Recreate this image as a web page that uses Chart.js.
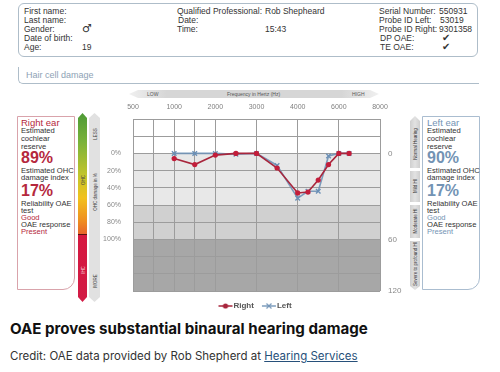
<!DOCTYPE html>
<html><head><meta charset="utf-8">
<script src="https://cdn.jsdelivr.net/npm/chart.js@4/dist/chart.umd.min.js"></script>
<style>
html,body{margin:0;padding:0;background:#fff;}
body{width:500px;height:372px;position:relative;overflow:hidden;font-family:"Liberation Sans",Arial,sans-serif;color:#333;}
.a{position:absolute;white-space:nowrap;}
.rot{position:absolute;white-space:nowrap;transform:translate(-50%,-50%) rotate(-90deg);font-size:4.5px;color:#444;}
#hdr{position:absolute;left:18px;top:3px;width:458px;height:52px;border:1.5px solid #aebdc9;border-radius:6px;}
#hcd{position:absolute;left:18px;top:67px;width:460px;height:16px;border-left:1.5px solid #aebdc9;border-bottom:1.5px solid #aebdc9;border-bottom-left-radius:5px;}
#band{position:absolute;left:129px;top:90px;width:250px;height:8px;clip-path:polygon(0 50%,9px 0,calc(100% - 9px) 0,100% 50%,calc(100% - 9px) 100%,9px 100%);background:linear-gradient(to right,#f0f0f0,#d6d6d6 15%,#d6d6d6 85%,#f0f0f0);}
.pnl{position:absolute;top:116px;width:56px;height:172px;border-bottom-right-radius:12px;}
.bar{position:absolute;clip-path:polygon(50% 0,100% 5px,100% calc(100% - 5px),50% 100%,0 calc(100% - 5px),0 5px);}
.seg{position:absolute;left:410px;width:10px;background:linear-gradient(to right,#cfcfcf,#e2e2e2 50%,#cfcfcf);}
canvas{position:absolute;left:0;top:0;}
</style></head>
<body>
<div id="hdr"></div>
<div id="hcd"></div>
<div class="a" style="left:26px;top:70px;font-size:9px;color:#8ea2b5;">Hair cell damage</div>
<div id="band"></div>
<div class="a" style="left:147px;top:91px;font-size:5px;color:#555;">LOW</div>
<div class="a" style="left:227px;top:91px;font-size:5px;color:#555;">Frequency in Hertz (Hz)</div>
<div class="a" style="left:352px;top:91px;font-size:5px;color:#555;">HIGH</div>

<div class="pnl" style="left:17px;border:1px solid #d9a3ab;"></div>
<div class="bar" style="left:78px;top:113px;width:9px;height:189px;background:linear-gradient(to bottom,#4d9a36 0%,#79b23a 15%,#c3c52c 33%,#f2c11d 45%,#ef8e20 57%,#e8652b 64%,#5a1010 64%,#5a1010 64.6%,#d6173f 64.6%,#d21b45 100%);"></div>
<div class="bar" style="left:89px;top:113px;width:11px;height:189px;background:#e1e1e1;"></div>
<div class="rot" style="left:82.5px;top:180px;">OHC</div>
<div class="rot" style="left:82.5px;top:270px;color:#f5d0d8;">IHC</div>
<div class="rot" style="left:94.5px;top:134px;">LESS</div>
<div class="rot" style="left:94.5px;top:192px;">OHC damage in %</div>
<div class="rot" style="left:94.5px;top:281px;">MORE</div>

<div class="seg" style="top:116px;height:52px;clip-path:polygon(50% 0,100% 5px,100% 100%,0 100%,0 5px);"></div>
<div class="seg" style="top:171px;height:31px;"></div>
<div class="seg" style="top:205px;height:33px;"></div>
<div class="seg" style="top:241px;height:49px;clip-path:polygon(0 0,100% 0,100% calc(100% - 4px),50% 100%,0 calc(100% - 4px));"></div>
<div class="rot" style="left:415px;top:144px;color:#333;">Normal Hearing</div>
<div class="rot" style="left:415px;top:186px;color:#333;">Mild HI</div>
<div class="rot" style="left:415px;top:221px;color:#333;">Moderate HI</div>
<div class="rot" style="left:415px;top:264px;color:#333;">Severe to profound HI</div>
<div class="pnl" style="left:422px;border:1px solid #aabdd0;"></div>

<div id="txt"></div>

<div class="a" style="left:10px;top:319px;font-family:Inter,'Liberation Sans',sans-serif;font-weight:700;font-size:15.1px;color:#111;">OAE proves substantial binaural hearing damage</div>
<div class="a" style="left:10px;top:349px;font-family:Inter,'Liberation Sans',sans-serif;font-size:11.5px;color:#333;">Credit: OAE data provided by Rob Shepherd at <span style="color:#27507a;text-decoration:underline;">Hearing Services</span></div>

<canvas id="c" width="500" height="325"></canvas>
<script>
// ---- data ----
const tickFreqs = [500, 1000, 2000, 3000, 4000, 6000, 8000];
const tickLabels = ['500', '1000', '2000', '3000', '4000', '6000', '8000'];
const gridFreqs = [500, 750, 1000, 1500, 2000, 3000, 4000, 6000, 8000];
const frequencies = [1000, 1500, 2000, 2500, 3000, 3500, 4000, 4500, 5000, 5500, 6000, 6500];
const rightEar = [6, 13, 2, 0, 0, 17, 46, 45, 31, 13, 0, 0];
const leftEar  = [0, 0, 0, 1, 0, 14, 52, 44, 44, 3, 0, 0];
const leftAxisTicks = [0, 20, 40, 60, 80, 100];
const rightAxisTicks = [0, 100, 160];
const rightAxisLabels = ['0', '60', '120'];
const bands = [[-40, 0, '#ffffff'], [0, 60, '#e8e8e8'], [60, 100, '#d0d0d0'], [100, 160, '#a7a7a7']];

// header / panel texts
const header = [
  ['First name:',24,11],['Last name:',24,20],['Gender:',24,29],['Date of birth:',24,38],['Age:',24,47],
  ['\u2642',82,29,11,700,'DejaVu Sans'],['19',82,47],
  ['Qualified Professional:',177,11],['Rob Shepheard',265,11],['Date:',178,20],['Time:',177,29],['15:43',265,29],
  ['Serial Number:',379,11],['550931',439,11],['Probe ID Left:',379,20],['53019',440,20],['Probe ID Right:',379,29],['9301358',439,29],
  ['DP OAE:',380,38],['\u2714',442,38,9.5],['TE OAE:',380,47],['\u2714',442,47,9.5]
];
function panel(x, title, reserve, dmg, rel, resp, col) {
  return [
    [title, x, 123, col, 9.5, 400],
    ['Estimated', x, 131], ['cochlear', x, 139], ['reserve', x, 147],
    [reserve, x, 158, col, 16, 700],
    ['Estimated OHC', x, 171], ['damage index', x, 178],
    [dmg, x, 191, col, 16, 700],
    ['Reliability OAE', x, 204], ['test', x, 211],
    [rel, x, 218, col], ['OAE response', x, 225], [resp, x, 232, col]
  ];
}
const panelLines = panel(21, 'Right ear', '89%', '17%', 'Good', 'Present', '#b5283d')
  .concat(panel(427, 'Left ear', '90%', '17%', 'Good', 'Present', '#7393b4'));

const txt = document.getElementById('txt');
header.forEach(([t, x, y, s, w, ff]) => {
  const fs = s || 8.5;
  const d = document.createElement('div'); d.className = 'a';
  d.style.cssText = `left:${x}px;top:${y - 5}px;font-size:${fs}px;line-height:10px;color:#333;font-weight:${w || 400};` + (ff ? `font-family:'${ff}';` : '');
  d.textContent = t; txt.appendChild(d);
});
panelLines.forEach(([t, x, y, c, s, w]) => {
  const fs = s || 7.6;
  const d = document.createElement('div'); d.className = 'a';
  d.style.cssText = `left:${x}px;top:${y - fs * 0.6}px;font-size:${fs}px;line-height:${fs * 1.2}px;color:${c || '#333'};font-weight:${w || 400};`;
  d.textContent = t; txt.appendChild(d);
});

// ---- scale transform: frequency -> audiogram column position ----
function freqPos(f) {
  for (let i = 0; i < tickFreqs.length - 1; i++) {
    if (f <= tickFreqs[i + 1]) return i + (f - tickFreqs[i]) / (tickFreqs[i + 1] - tickFreqs[i]);
  }
  return tickFreqs.length - 1;
}

function legendIcon(color, style) {
  const c = document.createElement('canvas'); c.width = 16; c.height = 8;
  const g = c.getContext('2d');
  g.strokeStyle = color; g.lineWidth = 1.5;
  g.beginPath(); g.moveTo(1, 4); g.lineTo(15, 4); g.stroke();
  g.fillStyle = color;
  if (style === 'circle') { g.beginPath(); g.arc(8, 4, 2.6, 0, Math.PI * 2); g.fill(); }
  else { g.lineWidth = 1.3; g.beginPath(); g.moveTo(5.5, 1.5); g.lineTo(10.5, 6.5); g.moveTo(10.5, 1.5); g.lineTo(5.5, 6.5); g.stroke(); }
  return c;
}

const bandPlugin = {
  id: 'bands',
  beforeDraw(chart) {
    const { ctx, chartArea: a, scales: { y } } = chart;
    ctx.save();
    bands.forEach(([from, to, col]) => {
      const y1 = y.getPixelForValue(from), y2 = y.getPixelForValue(to);
      ctx.fillStyle = col;
      ctx.fillRect(a.left, Math.min(y1, y2), a.right - a.left, Math.abs(y2 - y1));
    });
    ctx.restore();
  }
};

const gridColor = '#9c9c9c';
new Chart(document.getElementById('c'), {
  type: 'line',
  data: {
    datasets: [
      {
        label: 'Right',
        data: frequencies.map((f, i) => ({ x: freqPos(f), y: rightEar[i] })),
        borderColor: '#a8263c', backgroundColor: '#c21d3a',
        borderWidth: 1.6, pointStyle: 'circle', pointRadius: 2.6,
        pointBorderWidth: 0, pointBackgroundColor: '#c21d3a'
      },
      {
        label: 'Left',
        data: frequencies.map((f, i) => ({ x: freqPos(f), y: leftEar[i] })),
        borderColor: 'rgba(112,146,182,0.9)', backgroundColor: '#6f93b8',
        borderWidth: 1.6, pointStyle: 'crossRot', pointRadius: 3.2,
        pointBorderWidth: 1.4, pointBorderColor: '#6a8fb6'
      }
    ]
  },
  options: {
    responsive: false, animation: false,
    layout: { padding: { left: 93, right: 80, top: 99, bottom: 5 } },
    font: { family: "'Liberation Sans', Arial, sans-serif" },
    scales: {
      x: {
        type: 'linear', position: 'top', min: 0, max: tickFreqs.length - 1,
        afterBuildTicks: s => { s.ticks = gridFreqs.map(f => ({ value: freqPos(f) })); },
        afterFit: s => { s.height = 20; },
        ticks: {
          autoSkip: false, maxRotation: 0, padding: 8, color: '#808080',
          font: { size: 7 },
          callback: v => { const i = tickFreqs.findIndex(f => Math.abs(freqPos(f) - v) < 1e-6); return i >= 0 ? tickLabels[i] : ''; }
        },
        grid: { color: gridColor, drawTicks: false },
        border: { color: gridColor }
      },
      y: {
        type: 'linear', position: 'left', reverse: true, min: -40, max: 160,
        afterFit: s => { s.width = 40; },
        ticks: {
          stepSize: 20, padding: 12, color: '#8a8a8a', font: { size: 7 },
          callback: v => leftAxisTicks.includes(v) ? v + '%' : ''
        },
        grid: { color: gridColor, drawTicks: false },
        border: { color: gridColor }
      },
      y2: {
        type: 'linear', position: 'right', reverse: true, min: -40, max: 160,
        afterFit: s => { s.width = 40; },
        afterBuildTicks: s => { s.ticks = rightAxisTicks.map(v => ({ value: v })); },
        ticks: {
          padding: 8, color: '#8a8a8a', font: { size: 8 },
          callback: v => { const i = rightAxisTicks.indexOf(v); return i >= 0 ? rightAxisLabels[i] : ''; }
        },
        grid: { display: false, drawTicks: false },
        border: { display: false }
      }
    },
    plugins: {
      legend: {
        position: 'bottom',
        labels: {
          usePointStyle: true, boxHeight: 8, padding: 11, color: '#555',
          font: { size: 8, weight: 'bold' },
          generateLabels: chart => chart.data.datasets.map((ds, i) => ({
            text: ds.label, datasetIndex: i, fontColor: '#555', lineWidth: 0,
            pointStyle: legendIcon(ds.borderColor, ds.pointStyle), hidden: false
          }))
        }
      },
      tooltip: { enabled: false }
    }
  },
  plugins: [bandPlugin]
});
</script>
</body></html>
